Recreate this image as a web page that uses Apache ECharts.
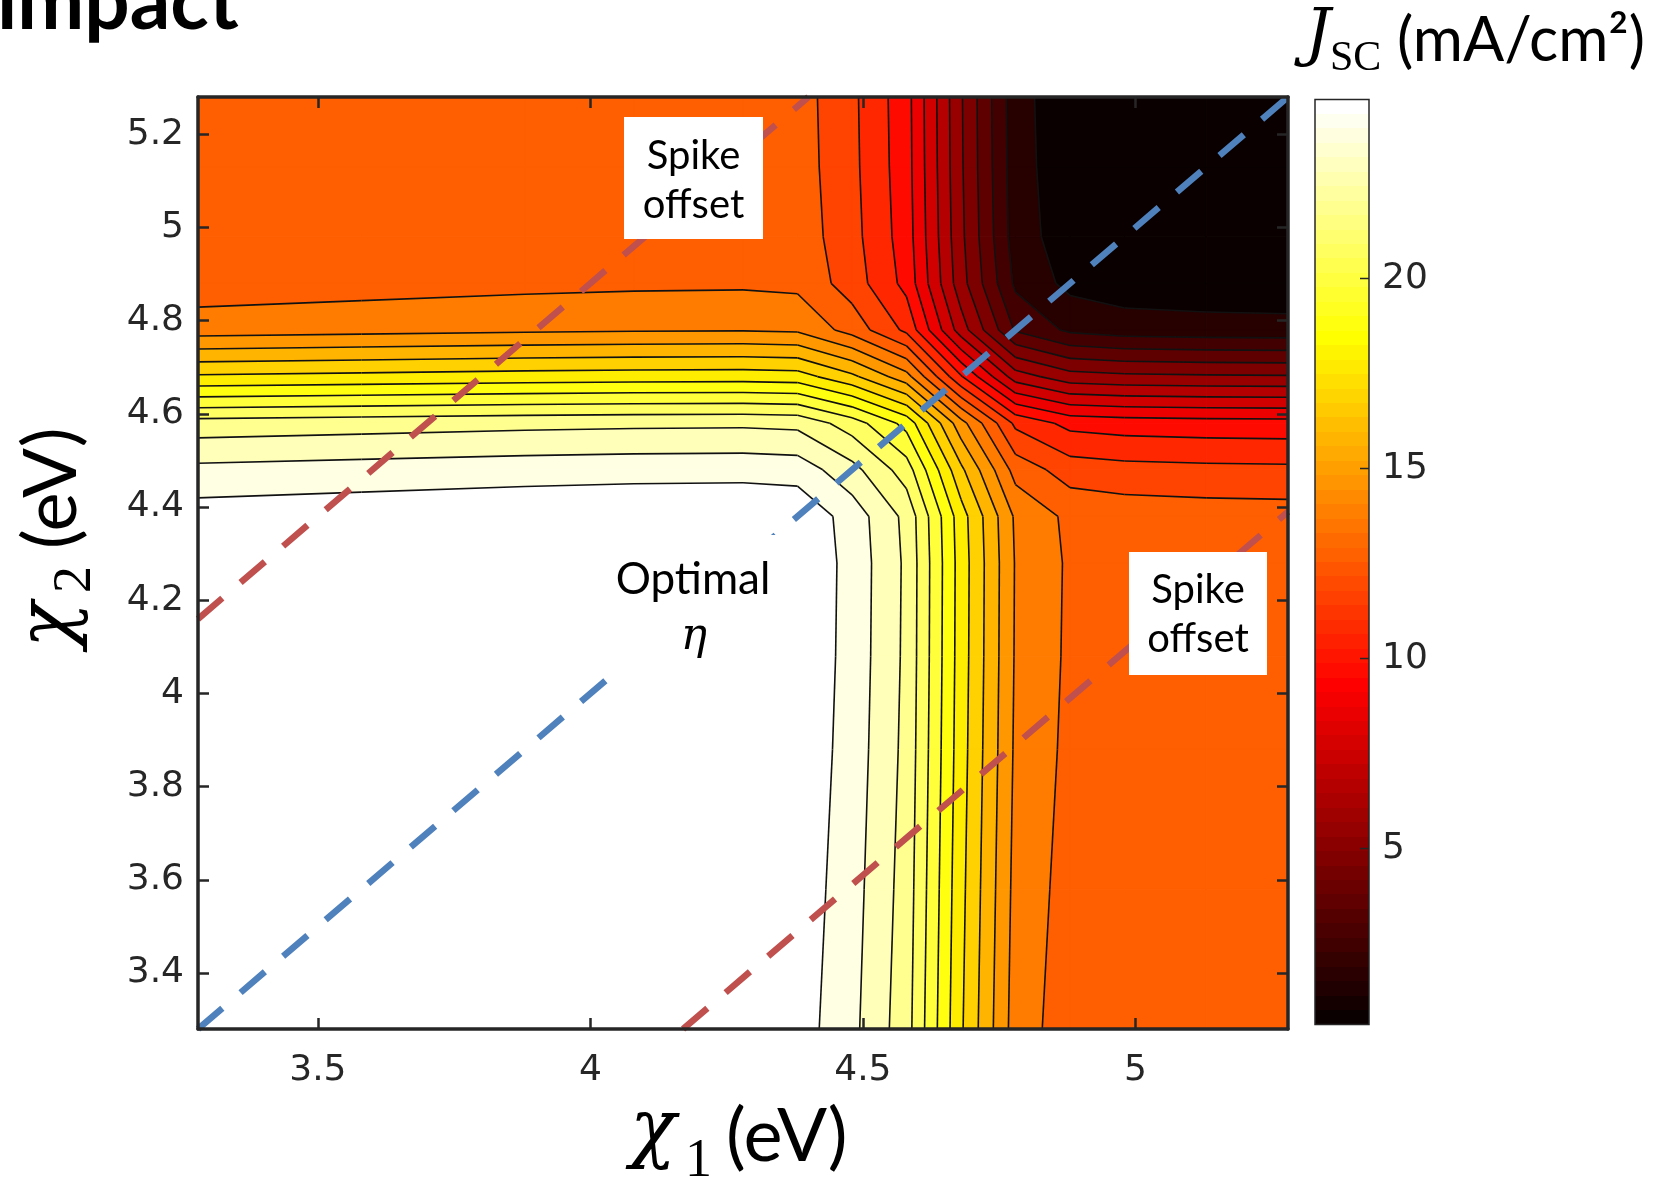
<!DOCTYPE html>
<html><head><meta charset="utf-8">
<script src="https://cdn.jsdelivr.net/npm/echarts@6/dist/echarts.min.js"></script>
<style>html,body{margin:0;padding:0;background:#fff;}#main{width:1653px;height:1182px;}</style>
</head><body><div id="main"></div>
<script>
// ---- data ----
// grid nodes of the contour data (eV)
const chi1Nodes = [3.28, 3.58, 3.88, 4.08, 4.28, 4.38, 4.48, 4.58, 4.68, 4.78, 4.88, 4.98, 5.13, 5.28];
const chi2Nodes = [3.28, 3.58, 3.88, 4.08, 4.28, 4.38, 4.48, 4.58, 4.68, 4.78, 4.88, 4.98, 5.13, 5.28];
// Jsc (mA/cm2): one row per chi2 node (bottom to top), one value per chi1 node
const jscGrid = [
 [24.18, 24.33, 24.48, 24.55, 24.58, 24.49, 23.26, 21.42, 17.14, 13.53, 12.45, 12.27, 12.18, 12.14],
 [24.33, 24.48, 24.63, 24.70, 24.73, 24.64, 23.41, 21.57, 17.29, 13.68, 12.60, 12.42, 12.33, 12.29],
 [24.48, 24.63, 24.78, 24.85, 24.88, 24.79, 23.56, 21.72, 17.44, 13.83, 12.75, 12.57, 12.48, 12.44],
 [24.55, 24.70, 24.85, 24.92, 24.95, 24.86, 23.63, 21.79, 17.51, 13.90, 12.82, 12.64, 12.55, 12.51],
 [24.58, 24.73, 24.88, 24.95, 24.98, 24.89, 23.66, 21.82, 17.54, 13.93, 12.85, 12.67, 12.58, 12.54],
 [24.49, 24.64, 24.79, 24.86, 24.89, 24.80, 23.57, 21.73, 17.45, 13.84, 12.76, 12.58, 12.49, 12.45],
 [23.26, 23.41, 23.56, 23.63, 23.66, 23.57, 22.34, 20.50, 16.22, 12.61, 11.53, 11.35, 11.26, 11.22],
 [21.42, 21.57, 21.72, 21.79, 21.82, 21.73, 20.50, 18.66, 14.38, 10.77,  9.69,  9.51,  9.42,  9.38],
 [17.14, 17.29, 17.44, 17.51, 17.54, 17.45, 16.22, 14.38, 10.10,  6.49,  5.41,  5.23,  5.14,  5.10],
 [13.53, 13.68, 13.83, 13.90, 13.93, 13.84, 12.61, 10.77,  6.49,  2.88,  1.80,  1.50,  1.41,  1.37],
 [12.45, 12.60, 12.75, 12.82, 12.85, 12.76, 11.53,  9.69,  5.41,  1.80,  0.72,  0.44,  0.35,  0.31],
 [12.27, 12.42, 12.57, 12.64, 12.67, 12.58, 11.35,  9.51,  5.23,  1.50,  0.44,  0.36,  0.27,  0.23],
 [12.18, 12.33, 12.48, 12.55, 12.58, 12.49, 11.26,  9.42,  5.14,  1.41,  0.35,  0.27,  0.18,  0.14],
 [12.14, 12.29, 12.44, 12.51, 12.54, 12.45, 11.22,  9.38,  5.10,  1.37,  0.31,  0.23,  0.14,  0.10]
];
const contourLevels = [1,2,3,4,5,6,7,8,9,10,11,12,13,14,15,16,17,18,19,20,21,22,23,24];
const xTicks = [3.5, 4, 4.5, 5];
const yTicks = [3.4, 3.6, 3.8, 4, 4.2, 4.4, 4.6, 4.8, 5, 5.2];
const cbTicks = [5, 10, 15, 20];
const cbRange = [0.37, 24.71];
const optimalLine = [[3.28, 3.28], [5.28, 5.28]];
const spikeLineUpper = [[3.28, 4.16], [4.40, 5.28]];
const spikeLineLower = [[4.17, 3.28], [5.28, 4.39]];

// ---- styling helpers ----
function clamp01(v){ return Math.max(0, Math.min(1, v)); }
function rgb(r,g,b){ return 'rgb(' + Math.round(255*r) + ',' + Math.round(255*g) + ',' + Math.round(255*b) + ')'; }
function hot(t){
  t = clamp01(t);
  return rgb(Math.min(1, t/0.375), clamp01((t-0.375)/0.375), clamp01((t-0.75)/0.25));
}
function hot64(n){
  const r = n < 24 ? (n+1)/24 : 1;
  const g = n < 24 ? 0 : (n < 48 ? (n-23)/24 : 1);
  const b = n < 48 ? 0 : (n-47)/16;
  return rgb(r,g,b);
}
function bandColor(k){ return hot((k + 0.36) / 24); }

function clipPoly(poly, level, keepAbove){
  const out = [];
  const n = poly.length;
  for (let m = 0; m < n; m++){
    const a = poly[m], b = poly[(m+1)%n];
    const ina = keepAbove ? a.v >= level : a.v <= level;
    const inb = keepAbove ? b.v >= level : b.v <= level;
    if (ina) out.push(a);
    if (ina !== inb){
      const t = (level - a.v)/(b.v - a.v);
      out.push({x: a.x + t*(b.x-a.x), y: a.y + t*(b.y-a.y), v: level});
    }
  }
  return out;
}
function cellPoly(i, j){
  return [
    {x: chi1Nodes[i],   y: chi2Nodes[j],   v: jscGrid[j][i]},
    {x: chi1Nodes[i+1], y: chi2Nodes[j],   v: jscGrid[j][i+1]},
    {x: chi1Nodes[i+1], y: chi2Nodes[j+1], v: jscGrid[j+1][i+1]},
    {x: chi1Nodes[i],   y: chi2Nodes[j+1], v: jscGrid[j+1][i]}
  ];
}
function renderBands(params, api){
  const i = api.value(2), j = api.value(3);
  const poly = cellPoly(i, j);
  const vs = poly.map(p => p.v);
  const vmin = Math.min.apply(null, vs), vmax = Math.max.apply(null, vs);
  const children = [];
  for (let k = 0; k <= contourLevels.length; k++){
    const lo = k === 0 ? -Infinity : contourLevels[k-1];
    const hi = k === contourLevels.length ? Infinity : contourLevels[k];
    if (hi <= vmin || lo >= vmax) continue;
    let p = poly;
    if (lo > vmin) p = clipPoly(p, lo, true);
    if (p.length >= 3 && hi < vmax) p = clipPoly(p, hi, false);
    if (p.length < 3) continue;
    const pts = p.map(q => api.coord([q.x, q.y]));
    const col = bandColor(k);
    children.push({type:'polygon', shape:{points: pts}, style:{fill: col, stroke: col, lineWidth: 1}});
  }
  return {type:'group', children};
}
function renderLines(params, api){
  const i = api.value(2), j = api.value(3);
  const poly = cellPoly(i, j);
  const children = [];
  contourLevels.forEach(L => {
    const pts = [];
    for (let m = 0; m < 4; m++){
      const a = poly[m], b = poly[(m+1)%4];
      if ((a.v - L) * (b.v - L) < 0){
        const t = (L - a.v)/(b.v - a.v);
        pts.push(api.coord([a.x + t*(b.x-a.x), a.y + t*(b.y-a.y)]));
      }
    }
    const segs = pts.length === 2 ? [[pts[0], pts[1]]] : (pts.length === 4 ? [[pts[0], pts[1]], [pts[2], pts[3]]] : []);
    segs.forEach(s => children.push({type:'polyline', shape:{points: s}, style:{stroke:'#111', lineWidth: 1.6, fill: null}}));
  });
  return {type:'group', children};
}
const cells = [];
for (let j = 0; j < chi2Nodes.length - 1; j++)
  for (let i = 0; i < chi1Nodes.length - 1; i++)
    cells.push([chi1Nodes[i], chi2Nodes[j], i, j]);

const cbStops = [];
for (let n = 0; n < 64; n++){ const c = hot64(n); cbStops.push({offset: n/64, color: c}, {offset: (n+1)/64, color: c}); }

const AX = '#262626';
const tickFont = {fontFamily: 'DejaVu Sans', fontSize: 36, color: AX};
const fmt = v => String(Math.round(v*10)/10);
function frameAxis(extra){
  return Object.assign({
    type: 'value', min: 3.28, max: 5.28, z: 10,
    axisLine: {show: true, onZero: false, lineStyle: {color: AX, width: 3.5}},
    splitLine: {show: false}
  }, extra);
}
function txt(x, y, text, font, size, extra){
  const st = Object.assign({text: text, fontFamily: font, fontSize: size, fill: '#000',
    textAlign: 'left', textVerticalAlign: 'middle', align: 'left', verticalAlign: 'middle'}, extra || {});
  return {type: 'text', x: x, y: y, z: 101, style: st};
}
const C = {textAlign: 'center', align: 'center'};
const IT = {fontStyle: 'italic'};

const option = {
  animation: false,
  backgroundColor: '#ffffff',
  grid: [
    {left: 198, top: 97, width: 1090, height: 932},
    {left: 1315, top: 99.5, width: 54, height: 925}
  ],
  xAxis: [
    frameAxis({gridIndex: 0, position: 'bottom',
      axisTick: {show: true, inside: true, length: 11, customValues: xTicks, lineStyle: {color: AX, width: 2.5}},
      axisLabel: Object.assign({show: true, customValues: xTicks, margin: 24, formatter: fmt}, tickFont)}),
    frameAxis({gridIndex: 0, position: 'top',
      axisTick: {show: true, inside: true, length: 11, customValues: xTicks, lineStyle: {color: AX, width: 2.5}},
      axisLabel: {show: false}}),
    {gridIndex: 1, type: 'value', min: 0, max: 1, show: false}
  ],
  yAxis: [
    frameAxis({gridIndex: 0, position: 'left',
      axisTick: {show: true, inside: true, length: 11, customValues: yTicks, lineStyle: {color: AX, width: 2.5}},
      axisLabel: Object.assign({show: true, customValues: yTicks, margin: 14, formatter: fmt}, tickFont)}),
    frameAxis({gridIndex: 0, position: 'right',
      axisTick: {show: true, inside: true, length: 11, customValues: yTicks, lineStyle: {color: AX, width: 2.5}},
      axisLabel: {show: false}}),
    {gridIndex: 1, type: 'value', position: 'right', min: cbRange[0], max: cbRange[1], z: 10,
      axisLine: {show: false}, splitLine: {show: false}, axisTick: {show: false},
      axisLabel: Object.assign({show: true, customValues: cbTicks, margin: 13, formatter: fmt}, tickFont)}
  ],
  series: [
    {type: 'custom', coordinateSystem: 'cartesian2d', xAxisIndex: 0, yAxisIndex: 0, data: cells,
      encode: {x: 0, y: 1}, renderItem: renderBands, z: 1, silent: true, clip: true},
    {type: 'custom', coordinateSystem: 'cartesian2d', xAxisIndex: 0, yAxisIndex: 0, data: cells,
      encode: {x: 0, y: 1}, renderItem: renderLines, z: 2, silent: true, clip: true},
    {type: 'line', xAxisIndex: 0, yAxisIndex: 0, data: optimalLine, symbol: 'none', z: 3, silent: true, clip: true,
      lineStyle: {color: '#4F81BD', width: 6.5, type: [32, 24], cap: 'butt'}},
    {type: 'line', xAxisIndex: 0, yAxisIndex: 0, data: spikeLineUpper, symbol: 'none', z: 3, silent: true, clip: true,
      lineStyle: {color: '#C0504D', width: 6.5, type: [32, 24], cap: 'butt'}},
    {type: 'line', xAxisIndex: 0, yAxisIndex: 0, data: spikeLineLower, symbol: 'none', z: 3, silent: true, clip: true,
      lineStyle: {color: '#C0504D', width: 6.5, type: [32, 24], cap: 'butt'}},
    {type: 'custom', coordinateSystem: 'cartesian2d', xAxisIndex: 2, yAxisIndex: 2,
      data: [[0, cbRange[0], cbRange[1]]], encode: {x: 0, y: 1}, silent: true, z: 2,
      renderItem: function(params, api){
        const tl = api.coord([0, api.value(2)]);
        const br = api.coord([1, api.value(1)]);
        const shape = {x: tl[0], y: tl[1], width: br[0]-tl[0], height: br[1]-tl[1]};
        const children = [
          {type: 'rect', shape: shape, style: {fill: new echarts.graphic.LinearGradient(0, 1, 0, 0, cbStops)}},
          {type: 'rect', shape: shape, style: {fill: null, stroke: AX, lineWidth: 1.5}}
        ];
        cbTicks.forEach(v => {
          const p = api.coord([1, v]);
          children.push({type: 'line', shape: {x1: p[0], y1: p[1], x2: p[0] - 9, y2: p[1]}, style: {stroke: AX, lineWidth: 1.5}});
        });
        return {type: 'group', children};
      }}
  ],
  graphic: [
    txt(-3, 3, 'impact', 'Lato', 80, {fontWeight: 'bold'}),
    // box 1
    {type: 'rect', z: 100, shape: {x: 624, y: 117, width: 139, height: 122}, style: {fill: '#fff'}},
    txt(693.5, 156, 'Spike', 'Lato', 40, C),
    txt(693.5, 205, 'offset', 'Lato', 40, C),
    // box 2
    {type: 'rect', z: 100, shape: {x: 1129, y: 552, width: 138, height: 123}, style: {fill: '#fff'}},
    txt(1198, 590, 'Spike', 'Lato', 40, C),
    txt(1198, 639, 'offset', 'Lato', 40, C),
    // optimal box
    {type: 'rect', z: 100, shape: {x: 606, y: 535, width: 172, height: 141}, style: {fill: '#fff'}},
    txt(693, 580, 'Optimal', 'Lato', 44, C),
    txt(694, 638, 'η', 'DejaVu Serif', 44, Object.assign({}, C, IT)),
    // x axis label
    txt(630, 1133, 'χ', 'DejaVu Serif', 76, IT),
    txt(685, 1162, '1', 'Liberation Serif', 54),
    txt(726, 1137, '(eV)', 'Lato', 74),
    // y axis label (rotated, reading upward)
    Object.assign(txt(51, 648, 'χ', 'DejaVu Serif', 76, IT), {rotation: Math.PI/2}),
    Object.assign(txt(76, 593, '2', 'Liberation Serif', 54), {rotation: Math.PI/2}),
    Object.assign(txt(52, 549, '(eV)', 'Lato', 74), {rotation: Math.PI/2}),
    // colorbar title
    txt(1305, 37, 'J', 'DejaVu Serif', 64, IT),
    txt(1330, 59, 'SC', 'Liberation Serif', 42),
    txt(1397, 41, '(mA/cm²)', 'Lato', 61)
  ]
};
const chart = echarts.init(document.getElementById('main'), null, {renderer: 'canvas', width: 1653, height: 1182});
chart.setOption(option);
</script>
</body></html>
